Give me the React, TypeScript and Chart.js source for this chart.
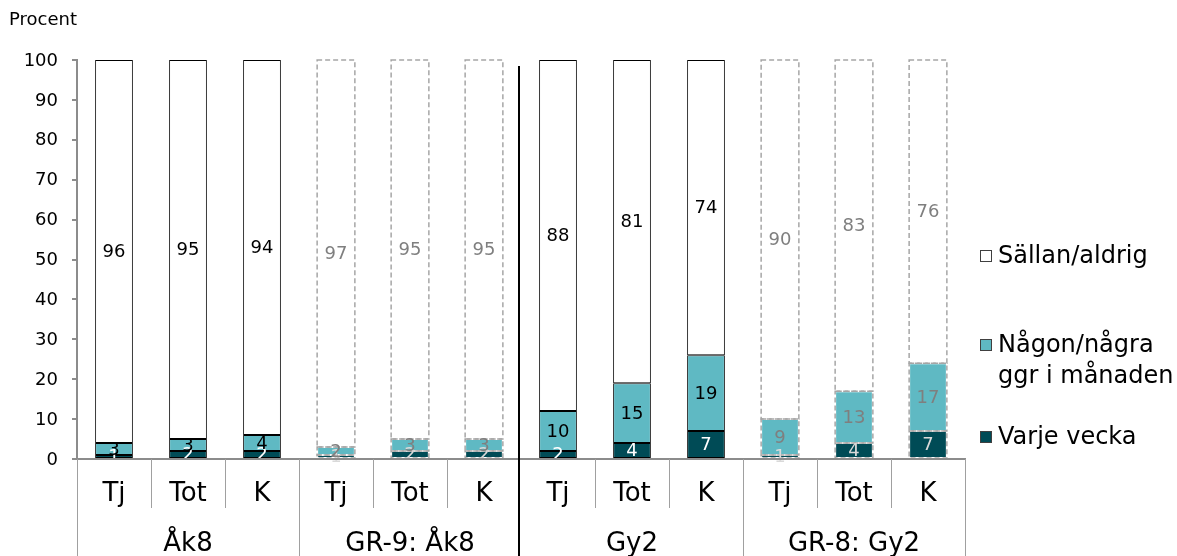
import React, { useEffect, useRef } from "react";
import { Chart, registerables } from "chart.js";

Chart.register(...registerables);

const categories = ["Tj", "Tot", "K", "Tj", "Tot", "K", "Tj", "Tot", "K", "Tj", "Tot", "K"];
const groups = ["Åk8", "GR-9: Åk8", "Gy2", "GR-8: Gy2"];
const varjeVecka = [1, 2, 2, 1, 2, 2, 2, 4, 7, 1, 4, 7];
const nagonNagra = [3, 3, 4, 2, 3, 3, 10, 15, 19, 9, 13, 17];
const sallanAldrig = [96, 95, 94, 97, 95, 95, 88, 81, 74, 90, 83, 76];
const comparison = [false, false, false, true, true, true, false, false, false, true, true, true];
const seriesNames = ["Varje vecka", "Någon/några ggr i månaden", "Sällan/aldrig"];
const legendLines = [["Sällan/aldrig"], ["Någon/några", "ggr i månaden"], ["Varje vecka"]];
const yTickValues = [0, 10, 20, 30, 40, 50, 60, 70, 80, 90, 100];

const FONT = "'DejaVu Sans', Verdana, sans-serif";
const DARK = "#004B56";
const TEAL = "#5FB9C3";
const WHITE = "#FFFFFF";
const AXIS = "#8C8C8C";

const overlayPlugin = {
  id: "overlay",
  afterDatasetsDraw(chart: any) {
    const ctx = chart.ctx;
    ctx.save();
    chart.data.datasets.forEach((ds: any, di: number) => {
      const meta = chart.getDatasetMeta(di);
      meta.data.forEach((bar: any, i: number) => {
        if (!comparison[i]) return;
        const p = bar.getProps(["x", "y", "base", "width"], true);
        ctx.setLineDash([5, 3]);
        ctx.strokeStyle = "#A6A6A6";
        ctx.lineWidth = 1.5;
        ctx.strokeRect(p.x - p.width / 2, Math.min(p.y, p.base), p.width, Math.abs(p.base - p.y));
      });
    });
    ctx.setLineDash([]);
    ctx.font = `18px ${FONT}`;
    ctx.textAlign = "center";
    ctx.textBaseline = "middle";
    chart.data.datasets.forEach((ds: any, di: number) => {
      const meta = chart.getDatasetMeta(di);
      meta.data.forEach((bar: any, i: number) => {
        const p = bar.getProps(["x", "y", "base"], true);
        let color: string;
        if (comparison[i]) color = di === 0 ? "#D9D9D9" : "#7F7F7F";
        else color = di === 0 ? "#FFFFFF" : "#000000";
        ctx.fillStyle = color;
        ctx.fillText(String(ds.data[i]), p.x, (p.y + p.base) / 2 + 1);
      });
    });
    ctx.restore();
  },
  afterDraw(chart: any) {
    const ctx = chart.ctx;
    const area = chart.chartArea;
    const xs = chart.scales.x;
    const ys = chart.scales.y;
    const n = categories.length;
    const step = (area.right - area.left) / n;
    const bottom = chart.height;
    ctx.save();
    ctx.fillStyle = "#000";
    ctx.font = `18px ${FONT}`;
    ctx.textAlign = "left";
    ctx.textBaseline = "middle";
    ctx.fillText("Procent", 9, 20);
    ctx.font = `18px ${FONT}`;
    ctx.textAlign = "right";
    yTickValues.forEach((v) => {
      ctx.fillText(String(v), 58, ys.getPixelForValue(v) + 1);
    });
    ctx.strokeStyle = AXIS;
    ctx.lineWidth = 2;
    ctx.beginPath();
    ctx.moveTo(area.left - 1, area.bottom);
    ctx.lineTo(area.right + 1, area.bottom);
    ctx.stroke();
    for (let k = 0; k <= n; k++) {
      const x = Math.round(xs.getPixelForValue(0) - step / 2 + k * step);
      if (k === 6) continue;
      const full = k % 3 === 0;
      ctx.strokeStyle = "#A0A0A0";
      ctx.lineWidth = 1;
      ctx.beginPath();
      ctx.moveTo(x + 0.5, area.bottom);
      ctx.lineTo(x + 0.5, full ? bottom : area.bottom + 49);
      ctx.stroke();
    }
    const xd = Math.round(xs.getPixelForValue(0) - step / 2 + 6 * step) - 2;
    ctx.strokeStyle = "#000";
    ctx.lineWidth = 2;
    ctx.beginPath();
    ctx.moveTo(xd, area.top + 6);
    ctx.lineTo(xd, bottom);
    ctx.stroke();
    ctx.fillStyle = "#000";
    ctx.font = `26px ${FONT}`;
    ctx.textAlign = "center";
    ctx.textBaseline = "middle";
    categories.forEach((c, i) => {
      ctx.fillText(c, xs.getPixelForValue(i), area.bottom + 35);
    });
    groups.forEach((g, gi) => {
      const cx = (xs.getPixelForValue(gi * 3) + xs.getPixelForValue(gi * 3 + 2)) / 2;
      ctx.fillText(g, cx, area.bottom + 85);
    });
    const legendColors = [WHITE, TEAL, DARK];
    const legendY = [256, 345, 437];
    ctx.font = `24px ${FONT}`;
    ctx.textAlign = "left";
    legendLines.forEach((lines, li) => {
      const y = legendY[li];
      ctx.fillStyle = legendColors[li];
      ctx.fillRect(980, y - 6, 12, 12);
      ctx.strokeStyle = "#404040";
      ctx.lineWidth = 1;
      ctx.strokeRect(980.5, y - 5.5, 11, 11);
      ctx.fillStyle = "#000";
      lines.forEach((t, k) => ctx.fillText(t, 998, y + 1 + k * 31));
    });
    ctx.restore();
  },
};

function App() {
  const ref = useRef<HTMLCanvasElement>(null);
  useEffect(() => {
    if (!ref.current) return;
    const mk = (label: string, data: number[], color: string) => ({
      label,
      data,
      backgroundColor: color,
      borderColor: data.map((_, i) => (comparison[i] ? "rgba(0,0,0,0)" : "#000000")),
      borderWidth: 1,
      borderSkipped: false,
    });
    const chart = new Chart(ref.current, {
      type: "bar",
      data: {
        labels: categories,
        datasets: [
          mk(seriesNames[0], varjeVecka, DARK),
          mk(seriesNames[1], nagonNagra, TEAL),
          mk(seriesNames[2], sallanAldrig, WHITE),
        ],
      },
      options: {
        animation: false,
        responsive: false,
        devicePixelRatio: 1,
        layout: { padding: { top: 60, right: 212, left: 0, bottom: 0 } },
        datasets: { bar: { categoryPercentage: 1, barPercentage: 0.51 } },
        plugins: { legend: { display: false }, tooltip: { enabled: false } },
        scales: {
          x: {
            stacked: true,
            grid: { display: false },
            border: { display: false },
            ticks: { display: false },
            afterFit: (s: any) => {
              s.height = 97;
            },
          },
          y: {
            stacked: true,
            min: 0,
            max: 100,
            ticks: { stepSize: 10, color: "rgba(0,0,0,0)", font: { family: FONT, size: 17 } },
            grid: { drawOnChartArea: false, drawTicks: true, tickLength: 5, color: AXIS, lineWidth: 2 },
            border: { display: true, color: AXIS, width: 2 },
            afterFit: (s: any) => {
              s.width = 77;
            },
          },
        },
      },
      plugins: [overlayPlugin],
    } as any);
    return () => chart.destroy();
  }, []);
  return (
    <div style={{ position: "fixed", left: 0, top: 0, width: 1177, height: 556, background: "#fff" }}>
      <canvas ref={ref} width={1177} height={556} style={{ width: 1177, height: 556 }} />
    </div>
  );
}

export default App;
